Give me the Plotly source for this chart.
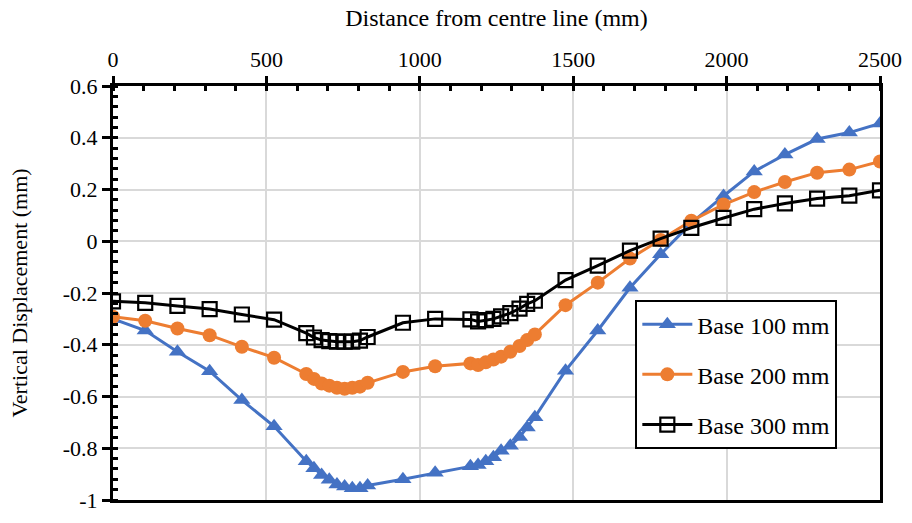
import plotly.graph_objects as go

distance = [0, 105, 210, 315, 420, 525,
            630, 655, 680, 705, 730, 755, 780, 805, 830,
            945, 1050,
            1165, 1190, 1215, 1240, 1265, 1295, 1325, 1350, 1375,
            1475, 1580, 1685, 1785, 1885, 1990, 2090, 2190, 2295, 2400, 2500]

base_100 = [-0.30, -0.345, -0.427, -0.502, -0.614, -0.715,
            -0.85, -0.877, -0.903, -0.922, -0.94, -0.948, -0.955, -0.955, -0.944,
            -0.92, -0.895,
            -0.87, -0.865, -0.85, -0.835, -0.81, -0.79, -0.757, -0.72, -0.68,
            -0.50, -0.345, -0.18, -0.05, 0.07, 0.175, 0.27, 0.335, 0.395, 0.42, 0.455]

base_200 = [-0.292, -0.307, -0.337, -0.363, -0.408, -0.45,
            -0.513, -0.532, -0.55, -0.558, -0.566, -0.57, -0.566, -0.562, -0.547,
            -0.505, -0.483,
            -0.472, -0.478, -0.468, -0.457, -0.446, -0.427, -0.405, -0.382, -0.36,
            -0.247, -0.16, -0.067, 0.005, 0.079, 0.142, 0.19, 0.229, 0.265, 0.277, 0.308]

base_300 = [-0.232, -0.238, -0.25, -0.262, -0.283, -0.303,
            -0.355, -0.372, -0.382, -0.386, -0.388, -0.388, -0.388, -0.384, -0.37,
            -0.315, -0.30,
            -0.302, -0.31, -0.305, -0.30, -0.29, -0.278, -0.26, -0.242, -0.23,
            -0.15, -0.094, -0.036, 0.01, 0.052, 0.09, 0.124, 0.146, 0.165, 0.176, 0.197]

series_names = ["Base 100 mm", "Base 200 mm", "Base 300 mm"]

y_tick_values = [-1, -0.8, -0.6, -0.4, -0.2, 0, 0.2, 0.4, 0.6]
y_tick_labels = ["-1", "-0.8", "-0.6", "-0.4", "-0.2", "0", "0.2", "0.4", "0.6"]
x_tick_values = [0, 500, 1000, 1500, 2000, 2500]
x_tick_labels = ["0", "500", "1000", "1500", "2000", "2500"]

FONT = "Liberation Serif, Times New Roman, serif"

fig = go.Figure()
fig.add_trace(go.Scatter(
    x=distance, y=base_100, name=series_names[0], mode="lines+markers",
    legendgroup="g1",
    line=dict(color="#4472C4", width=3),
    marker=dict(symbol="triangle-up", size=15, color="#4472C4")))
fig.add_trace(go.Scatter(
    x=distance, y=base_200, name=series_names[1], mode="lines+markers",
    legendgroup="g2",
    line=dict(color="#ED7D31", width=3),
    marker=dict(symbol="circle", size=14, color="#ED7D31")))
fig.add_trace(go.Scatter(
    x=distance, y=base_300, name=series_names[2], mode="lines+markers",
    legendgroup="g3",
    line=dict(color="black", width=3),
    marker=dict(symbol="square-open", size=14, color="black", line=dict(width=2.2))))

fig.update_layout(
    width=912, height=523,
    margin=dict(l=113, r=29, t=86, b=10),
    paper_bgcolor="white", plot_bgcolor="white",
    font=dict(family=FONT, size=22, color="black"),
    showlegend=True,
    legend=dict(x=0.681, y=0.483, xanchor="left", yanchor="top",
                bgcolor="white", bordercolor="black", borderwidth=2,
                font=dict(size=24, family=FONT), itemwidth=50,
                tracegroupgap=16),
    xaxis=dict(
        side="top", range=[0, 2500],
        tickvals=x_tick_values, ticktext=x_tick_labels,
        showline=True, linecolor="black", linewidth=3, mirror=True,
        ticks="outside", ticklen=7, tickwidth=3, tickcolor="black",
        showgrid=True, gridcolor="#d9d9d9", gridwidth=2,
        zeroline=False,
        minor=dict(tickvals=list(range(0, 2501, 100)), ticks="inside", ticklen=5,
                   tickwidth=3, tickcolor="black", showgrid=False),
        title=dict(text="Distance from centre line (mm)", font=dict(size=24), standoff=14),
        tickfont=dict(size=22),
    ),
    yaxis=dict(
        range=[-1, 0.6],
        tickvals=y_tick_values, ticktext=y_tick_labels,
        showline=True, linecolor="black", linewidth=3, mirror=True,
        ticks="outside", ticklen=8, tickwidth=3, tickcolor="black",
        showgrid=True, gridcolor="#d9d9d9", gridwidth=2,
        zeroline=False,
        minor=dict(dtick=0.04, tick0=0, ticks="inside", ticklen=5, tickwidth=3,
                   tickcolor="black", showgrid=False),
        title=dict(text="Vertical Displacement (mm)", font=dict(size=22), standoff=30),
        tickfont=dict(size=22),
    ),
)

fig.write_html("out.html",
               config={"displayModeBar": False},
               post_script="document.body.style.margin='0';document.body.style.overflow='hidden';")
